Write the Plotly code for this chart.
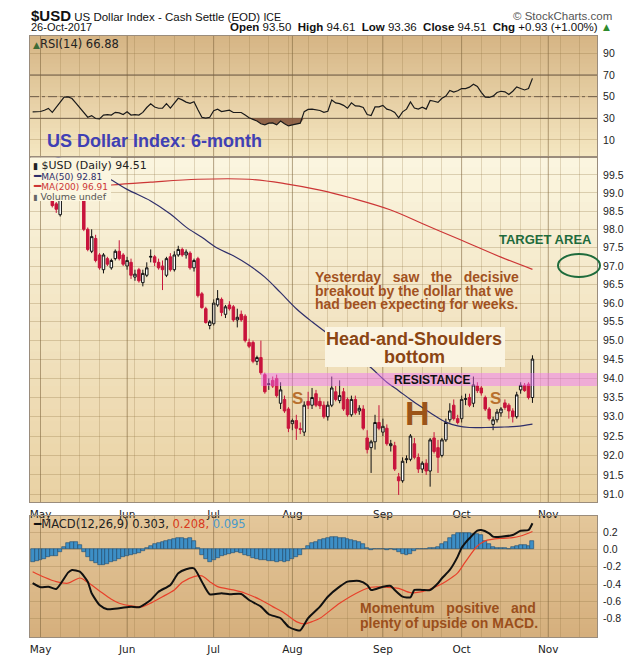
import math
import pandas as pd
import plotly.graph_objects as go
from plotly.subplots import make_subplots

# ---------------- calendar (trading days) ----------------
holidays = ["2017-05-29", "2017-07-04", "2017-09-04"]
days = pd.bdate_range("2017-04-27", "2017-11-24", freq="C", holidays=holidays)
cats = [d.strftime("%Y-%m-%d") for d in days]
price_days = cats[:128]          # 2017-04-27 .. 2017-10-26

# ---------------- daily OHLC ($USD) ----------------
open_ = [99.10, 98.95,
         99.05, 99.15, 99.00, 98.95, 98.70, 98.40, 99.05, 99.55, 99.60, 99.65, 99.15, 98.85, 98.00, 97.40, 97.75, 97.30, 96.90, 97.20, 96.95, 97.20, 97.40, 97.30,
         97.00, 97.10, 96.70, 96.90, 96.55, 96.75, 97.24, 97.25, 97.10, 97.00, 96.75, 97.25, 96.90, 97.30, 97.45, 97.30, 97.35, 96.95, 97.20, 96.25, 95.85, 95.40,
         95.45, 95.95, 96.10, 95.70, 95.95, 95.90, 95.55, 95.70, 95.65, 94.95, 94.95, 94.45, 94.55, 94.10, 93.84, 93.95, 94.00, 93.35, 93.45, 93.20,
         92.82, 92.90, 92.69, 92.60, 93.40, 93.30, 93.60, 93.40, 93.30, 93.00, 93.30, 93.65, 93.42, 93.65, 93.45, 93.05, 93.45, 93.15, 93.20, 92.45, 92.20, 92.35, 92.85,
         92.60, 92.70, 92.25, 92.25, 91.45, 91.35, 91.89, 91.90, 92.30, 91.95, 91.65, 91.80, 91.60, 92.45, 92.20, 92.00, 92.40, 92.92, 93.30, 92.95,
         92.95, 93.45, 93.50, 93.35, 93.80, 93.75, 93.50, 93.20, 92.80, 92.92, 93.10, 93.36, 93.30, 93.15, 93.00, 93.70, 93.82, 93.85, 93.50]
high_ = [99.20, 99.10,
         99.25, 99.20, 99.20, 99.00, 98.75, 99.10, 99.60, 99.70, 99.80, 99.70, 99.20, 98.90, 98.05, 98.00, 97.85, 97.35, 97.35, 97.25, 97.20, 97.45, 97.70, 97.35,
         97.25, 97.20, 96.90, 96.95, 96.90, 97.10, 97.45, 97.30, 97.20, 97.15, 97.25, 97.35, 97.40, 97.55, 97.50, 97.45, 97.40, 97.20, 97.25, 96.30, 95.90, 95.55,
         96.10, 96.35, 96.15, 95.95, 96.05, 95.95, 95.85, 95.80, 95.70, 95.05, 95.00, 94.60, 95.00, 94.15, 94.00, 94.05, 94.10, 93.90, 93.55, 93.25,
         92.95, 93.05, 92.85, 93.40, 93.65, 93.75, 93.70, 93.50, 93.40, 93.40, 94.05, 93.80, 93.95, 93.75, 93.50, 93.55, 93.55, 93.30, 93.30, 92.65, 92.40, 93.05, 93.30,
         92.95, 92.80, 92.40, 92.35, 91.55, 91.95, 92.00, 92.55, 92.45, 92.05, 91.85, 91.90, 92.45, 92.60, 92.40, 92.45, 92.95, 93.35, 93.45, 93.05,
         93.55, 93.60, 93.60, 94.05, 93.90, 93.80, 93.55, 93.25, 93.00, 93.20, 93.25, 93.45, 93.35, 93.22, 93.65, 93.90, 93.88, 93.90, 94.61]
low_ = [98.80, 98.85,
        98.95, 98.90, 98.90, 98.60, 98.45, 98.35, 99.00, 99.40, 99.45, 99.10, 98.85, 97.95, 97.40, 97.35, 97.10, 96.90, 96.80, 97.00, 96.90, 97.15, 97.15, 97.00,
        96.90, 96.65, 96.60, 96.55, 96.45, 96.70, 97.10, 97.00, 96.90, 96.35, 96.70, 96.85, 96.85, 97.25, 97.25, 97.20, 96.90, 96.85, 96.15, 95.85, 95.45, 95.30,
        95.40, 95.90, 95.65, 95.60, 95.80, 95.50, 95.35, 95.50, 94.95, 94.80, 94.40, 94.35, 94.10, 93.60, 93.70, 93.75, 93.50, 93.20, 93.10, 92.60,
        92.65, 92.40, 92.55, 92.50, 93.20, 93.20, 93.25, 93.20, 92.95, 92.90, 93.25, 93.40, 93.35, 93.15, 93.00, 93.00, 93.05, 93.05, 92.65, 92.05, 91.55, 92.15, 92.65,
        92.50, 92.25, 92.10, 91.60, 90.99, 91.30, 91.80, 91.85, 91.90, 91.55, 91.55, 91.50, 91.20, 92.05, 91.55, 91.95, 92.35, 92.85, 92.90, 92.80,
        92.85, 93.30, 93.25, 93.25, 93.62, 93.55, 93.15, 92.90, 92.65, 92.85, 93.00, 93.18, 92.95, 92.85, 92.95, 93.60, 93.65, 93.45, 93.36]
close_ = [98.95, 99.05,
          99.15, 99.00, 99.10, 98.65, 98.55, 99.05, 99.55, 99.60, 99.70, 99.20, 98.90, 98.00, 97.45, 97.80, 97.15, 96.95, 97.30, 97.05, 97.15, 97.40, 97.20, 97.05,
          97.15, 96.75, 96.78, 96.60, 96.80, 96.95, 97.26, 97.10, 96.95, 96.90, 97.20, 96.90, 97.30, 97.45, 97.30, 97.38, 96.95, 97.15, 96.20, 95.88, 95.48, 95.50,
          96.00, 96.12, 95.75, 95.90, 95.85, 95.55, 95.62, 95.55, 95.00, 94.85, 94.45, 94.55, 94.15, 93.65, 93.86, 93.80, 93.55, 93.70, 93.15, 92.70,
          92.90, 92.70, 92.67, 93.30, 93.30, 93.50, 93.30, 93.28, 93.00, 93.30, 93.75, 93.45, 93.55, 93.20, 93.05, 93.45, 93.10, 93.22, 92.70, 92.15, 92.35, 92.85, 92.70,
          92.75, 92.30, 92.30, 91.65, 91.35, 91.85, 91.91, 92.50, 91.95, 91.65, 91.80, 91.60, 92.40, 92.10, 91.95, 92.40, 92.85, 93.15, 92.95, 92.85,
          93.45, 93.47, 93.30, 93.83, 93.68, 93.62, 93.20, 92.95, 92.92, 93.12, 93.20, 93.24, 93.15, 93.00, 93.57, 93.82, 93.68, 93.50, 94.51]

# ---------------- RSI(14), daily ----------------
rsi = [36, 36, 36.3, 37.5, 39.2, 35.5, 40, 45, 49.5, 49.8,
       48.3, 44, 39.5, 34.5, 31, 32.5, 29.8, 29.5, 33, 33.5,
       33, 35.5, 35, 33.5, 36, 33, 33.5, 33, 35.5, 40,
       43.5, 40.5, 39.3, 39.5, 43.5, 39.5, 44, 48.5, 47, 45,
       43.9, 45.4, 38, 31, 30.2, 31, 37, 38.4, 36.2, 37.2,
       37.5, 35.4, 35.5, 35.4, 33, 30.5, 29, 27.5, 25, 24,
       25.5, 25.8, 24, 27.5, 25, 23, 24, 24.8, 25.5, 36.2,
       38.2, 38.5, 37.7, 37.2, 35.5, 36.5, 47, 44.2, 43.6, 42,
       39.3, 44.3, 41.5, 41.2, 40, 33.5, 32.5, 40.5, 40.6, 42,
       38.5, 37.5, 35.5, 30.5, 36, 38.5, 45.2, 39.5, 38.5, 40.2,
       38.5, 46.5, 45.8, 44.8, 48.5, 50.5, 55.8, 54.2, 55.5, 57.5,
       57.5, 58.8, 61.5, 59.5, 54, 49.5, 49.3, 50.5, 53.8, 55,
       54.5, 52, 55, 59, 57.5, 56.2, 57.5, 66.9]

# ---------------- moving averages (sampled) ----------------
ma50_dates = ["2017-05-01", "2017-05-11", "2017-05-24", "2017-06-01", "2017-06-09", "2017-06-16", "2017-06-22",
              "2017-06-28", "2017-07-05", "2017-07-11", "2017-07-17", "2017-07-21", "2017-07-27", "2017-08-02",
              "2017-08-08", "2017-08-11", "2017-08-17", "2017-08-23", "2017-08-29", "2017-09-05", "2017-09-08",
              "2017-09-13", "2017-09-18", "2017-09-21", "2017-09-26", "2017-09-29", "2017-10-04", "2017-10-10",
              "2017-10-16", "2017-10-20", "2017-10-26"]
ma50 = [100.15, 99.85, 99.42, 99.10, 98.78, 98.42, 98.06, 97.78, 97.48, 97.28, 97.02, 96.70, 96.28, 95.85,
        95.50, 95.26, 94.95, 94.62, 94.28, 93.90, 93.68, 93.45, 93.24, 93.04, 92.86, 92.76, 92.72, 92.72,
        92.73, 92.75, 92.81]
ma200_dates = ["2017-04-27", "2017-05-15", "2017-05-25", "2017-06-09", "2017-06-27", "2017-07-17", "2017-07-28",
               "2017-08-10", "2017-08-22", "2017-09-06", "2017-09-19", "2017-10-02", "2017-10-16", "2017-10-26"]
ma200 = [99.00, 99.12, 99.22, 99.30, 99.38, 99.38, 99.26, 99.08, 98.86, 98.53, 98.11, 97.70, 97.24, 96.91]

# ---------------- MACD(12,26,9) ----------------
macd_dates = ["2017-04-27", "2017-05-01", "2017-05-03", "2017-05-05", "2017-05-10", "2017-05-11", "2017-05-15",
              "2017-05-17", "2017-05-18", "2017-05-22", "2017-05-24", "2017-05-30", "2017-06-02", "2017-06-06",
              "2017-06-09", "2017-06-13", "2017-06-16", "2017-06-20", "2017-06-22", "2017-06-26", "2017-06-28",
              "2017-06-30", "2017-07-06", "2017-07-10", "2017-07-13", "2017-07-17", "2017-07-20", "2017-07-24",
              "2017-07-27", "2017-07-31", "2017-08-02", "2017-08-03", "2017-08-07", "2017-08-10", "2017-08-14",
              "2017-08-17", "2017-08-21", "2017-08-24", "2017-08-28", "2017-08-29", "2017-09-01", "2017-09-06",
              "2017-09-07", "2017-09-11", "2017-09-13", "2017-09-14", "2017-09-18", "2017-09-20", "2017-09-22",
              "2017-09-25", "2017-09-27", "2017-09-29", "2017-10-02", "2017-10-03", "2017-10-04", "2017-10-06",
              "2017-10-09", "2017-10-11", "2017-10-12", "2017-10-16", "2017-10-19", "2017-10-23", "2017-10-25",
              "2017-10-26"]
macd = [-0.39, -0.437, -0.43, -0.457, -0.268, -0.237, -0.257,
        -0.372, -0.506, -0.642, -0.69, -0.68, -0.661, -0.668,
        -0.584, -0.488, -0.41, -0.275, -0.229, -0.218, -0.372,
        -0.518, -0.506, -0.518, -0.514, -0.584, -0.661, -0.749,
        -0.795, -0.893, -0.93, -0.935, -0.795, -0.661, -0.546,
        -0.43, -0.372, -0.364, -0.41, -0.468, -0.43, -0.422,
        -0.468, -0.546, -0.553, -0.468, -0.468, -0.468, -0.39,
        -0.333, -0.237, -0.083, 0.02, 0.08, 0.129, 0.217,
        0.225, 0.187, 0.148, 0.148, 0.168, 0.217, 0.225,
        0.303]
signal_dates = ["2017-04-27", "2017-05-02", "2017-05-05", "2017-05-10", "2017-05-15", "2017-05-17", "2017-05-22",
                "2017-05-25", "2017-05-30", "2017-06-02", "2017-06-07", "2017-06-09", "2017-06-14", "2017-06-19",
                "2017-06-21", "2017-06-26", "2017-06-28", "2017-06-30", "2017-07-05", "2017-07-11", "2017-07-14",
                "2017-07-20", "2017-07-25", "2017-07-28", "2017-08-02", "2017-08-04", "2017-08-08", "2017-08-10",
                "2017-08-17", "2017-08-24", "2017-08-29", "2017-09-05", "2017-09-08", "2017-09-13", "2017-09-18",
                "2017-09-22", "2017-09-26", "2017-09-29", "2017-10-03", "2017-10-06", "2017-10-10", "2017-10-16",
                "2017-10-19", "2017-10-23", "2017-10-26"]
signal = [-0.257, -0.321, -0.372, -0.39, -0.33, -0.38, -0.48,
          -0.576, -0.622, -0.653, -0.661, -0.62, -0.546, -0.468,
          -0.38, -0.314, -0.306, -0.372, -0.43, -0.468, -0.506,
          -0.584, -0.661, -0.737, -0.834, -0.861, -0.834, -0.795,
          -0.622, -0.488, -0.437, -0.437, -0.449, -0.499, -0.488,
          -0.42, -0.37, -0.27, -0.14, 0.04, 0.10, 0.129,
          0.136, 0.156, 0.208]
hist = [-0.14, -0.13, -0.12, -0.11, -0.09, -0.08, -0.07, -0.03, 0.03, 0.07,
        0.09, 0.09, 0.05, -0.03, -0.09, -0.13, -0.16, -0.18, -0.18, -0.17,
        -0.15, -0.13, -0.11, -0.09, -0.07, -0.06, -0.05, -0.04, -0.02, 0.02,
        0.04, 0.06, 0.08, 0.09, 0.10, 0.11, 0.12, 0.13, 0.13, 0.12,
        0.13, 0.10, 0.02, -0.06, -0.11, -0.14, -0.12, -0.10, -0.08, -0.06,
        -0.05, -0.04, -0.03, -0.04, -0.06, -0.08, -0.10, -0.11, -0.12, -0.12,
        -0.13, -0.13, -0.14, -0.13, -0.14, -0.13, -0.11, -0.09, -0.06, 0.0,
        0.04, 0.07, 0.09, 0.11, 0.12, 0.13, 0.14, 0.14, 0.13, 0.13,
        0.12, 0.11, 0.10, 0.09, 0.06, 0.02, -0.01, 0.01, 0.01, 0.0,
        -0.01, 0.01, -0.01, -0.03, -0.05, -0.06, -0.05, -0.02, 0.01, 0.01,
        0.01, 0.02, 0.02, 0.03, 0.06, 0.09, 0.13, 0.17, 0.19, 0.19,
        0.19, 0.19, 0.18, 0.18, 0.17, 0.10, 0.06, 0.03, 0.02, 0.02,
        0.02, 0.01, 0.03, 0.04, 0.05, 0.05, 0.04, 0.095]

price_ticks = [91.0, 91.5, 92.0, 92.5, 93.0, 93.5, 94.0, 94.5, 95.0, 95.5, 96.0, 96.5, 97.0, 97.5, 98.0, 98.5, 99.0, 99.5]
rsi_ticks = [10, 30, 50, 70, 90]
macd_ticks = [-0.8, -0.6, -0.4, -0.2, 0.0, 0.2]
month_names = {5: "May", 6: "Jun", 7: "Jul", 8: "Aug", 9: "Sep", 10: "Oct", 11: "Nov"}

# ---------------- geometry helpers (pixels -> paper) ----------------
W, H = 630, 661
ML, MR, MT, MB = 30, 33, 36, 24
PW, PH = W - ML - MR, H - MT - MB


def px(x):
    return (x - ML) / PW


def py(y):
    return (H - MB - y) / PH


XR = [-0.67, 143.4]
YR_RSI = [-5.7, 106.0]
YR_PRICE = [math.log10(90.81), math.log10(100.0)]
YR_MACD = [-1.012, 0.387]
ARIAL = "Liberation Sans, Arial, sans-serif"
VERD = "DejaVu Sans, Verdana, sans-serif"

# ticks / grid helpers from the calendar
s = pd.Series(days)
firsts = s.groupby([s.dt.year, s.dt.month]).first()
first_list = sorted(d.strftime("%Y-%m-%d") for d in firsts if d.month in month_names)
first_set = set(first_list)
monday_set = set(d.strftime("%Y-%m-%d") for d in days if d.weekday() == 0)
tickvals = sorted(first_set | monday_set)
ticktext = [month_names[pd.Timestamp(t).month] if t in first_set else "" for t in tickvals]

fig = make_subplots(rows=3, cols=1, shared_xaxes=True, vertical_spacing=0.02)

# category registration helpers (invisible)
for r, yv in [(1, 50), (2, 95), (3, 0)]:
    fig.add_trace(go.Scatter(x=cats, y=[yv] * len(cats), mode="markers", marker=dict(opacity=0, size=1),
                             hoverinfo="skip", showlegend=False), row=r, col=1)

# darker month separator lines (one trace per panel)
for r, (lo, hi) in [(1, (-50, 200)), (2, (80.0, 110.0)), (3, (-3, 3))]:
    xs, ys = [], []
    for d in first_list:
        xs += [d, d, None]
        ys += [lo, hi, None]
    fig.add_trace(go.Scatter(x=xs, y=ys, mode="lines", line=dict(color="rgba(120,95,60,0.42)", width=1),
                             hoverinfo="skip", showlegend=False, connectgaps=False), row=r, col=1)

# RSI
fig.add_trace(go.Scatter(x=price_days, y=[30] * len(price_days), mode="lines", line=dict(width=0),
                         hoverinfo="skip", showlegend=False), row=1, col=1)
fig.add_trace(go.Scatter(x=price_days, y=[min(v, 30) for v in rsi], mode="lines", line=dict(width=0),
                         fill="tonexty", fillcolor="rgba(135,88,62,0.9)", hoverinfo="skip", showlegend=False),
              row=1, col=1)
fig.add_trace(go.Scatter(x=price_days, y=rsi, mode="lines", line=dict(color="#1a1a1a", width=1.2),
                         showlegend=False), row=1, col=1)

# Price
fig.add_trace(go.Scatter(x=ma200_dates, y=ma200, mode="lines", line=dict(color="#cc3636", width=1.2, shape="spline"),
                         showlegend=False), row=2, col=1)
fig.add_trace(go.Scatter(x=ma50_dates, y=ma50, mode="lines", line=dict(color="#2e2e6a", width=1.2, shape="spline"),
                         showlegend=False), row=2, col=1)
fig.add_trace(go.Candlestick(x=price_days, open=open_, high=high_, low=low_, close=close_,
                             increasing=dict(line=dict(color="#111111", width=1), fillcolor="#ffffff"),
                             decreasing=dict(line=dict(color="#c8143c", width=1), fillcolor="#c8143c"),
                             whiskerwidth=0, showlegend=False, hoverinfo="skip"), row=2, col=1)

# MACD
fig.add_trace(go.Bar(x=price_days, y=hist, marker=dict(color="#3d8fc6", line=dict(color="#1d4a6e", width=0.6)),
                     showlegend=False), row=3, col=1)
fig.add_trace(go.Scatter(x=signal_dates, y=signal, mode="lines",
                         line=dict(color="#e8402a", width=1.2, shape="spline", smoothing=0.8), showlegend=False),
              row=3, col=1)
fig.add_trace(go.Scatter(x=macd_dates, y=macd, mode="lines",
                         line=dict(color="#111111", width=2, shape="spline", smoothing=0.6), showlegend=False),
              row=3, col=1)

grid = "rgba(140,110,60,0.24)"
border = "#9a8c7c"
xcommon = dict(type="category", categoryorder="array", categoryarray=cats, range=XR, automargin=False,
               tickvals=tickvals, ticktext=ticktext, showgrid=True, gridcolor=grid, gridwidth=1,
               showline=True, mirror=True, linecolor=border, linewidth=1,
               ticks="outside", ticklen=2, tickcolor="rgba(0,0,0,0)",
               tickfont=dict(family=VERD, size=10.5, color="#222"), rangeslider=dict(visible=False))
fig.update_layout(
    xaxis=dict(xcommon, showticklabels=False),
    xaxis2=dict(xcommon, showticklabels=True),
    xaxis3=dict(xcommon, showticklabels=True),
)
ycommon = dict(side="right", showgrid=True, gridcolor="rgba(140,110,60,0.28)", gridwidth=1, zeroline=False,
               showline=True, mirror=True, linecolor=border, linewidth=1, automargin=False,
               ticks="outside", ticklen=3, tickcolor="rgba(0,0,0,0)",
               tickfont=dict(family=ARIAL, size=10.5, color="#222"))
fig.update_layout(
    yaxis=dict(ycommon, domain=[py(157), py(36)], range=YR_RSI, tickvals=rsi_ticks,
               ticktext=[str(v) for v in rsi_ticks]),
    yaxis2=dict(ycommon, domain=[py(502), py(157)], type="log", range=YR_PRICE, tickvals=price_ticks,
                ticktext=["%.1f" % v for v in price_ticks]),
    yaxis3=dict(ycommon, domain=[py(637), py(516)], range=YR_MACD, tickvals=macd_ticks,
                ticktext=["%.1f" % v for v in macd_ticks]),
)

# ---------------- shapes ----------------
shapes = []


def gradient(y_top, y_bot, c_top, c_bot, n=30):
    for k in range(n):
        t = (k + 0.5) / n
        c = tuple(round(a + (b - a) * t) for a, b in zip(c_top, c_bot))
        ya = y_top + (y_bot - y_top) * k / n
        yb = y_top + (y_bot - y_top) * (k + 1) / n
        shapes.append(dict(type="rect", xref="paper", yref="paper", x0=0, x1=1,
                           y0=py(yb), y1=py(ya) + 0.0015, fillcolor="rgb(%d,%d,%d)" % c,
                           line=dict(width=0), layer="below"))


gradient(36, 157, (213, 180, 132), (245, 231, 193))
gradient(157, 502, (251, 246, 224), (233, 209, 163))
gradient(516, 637, (228, 199, 154), (213, 175, 125))

# RSI levels
for lvl, dash in [(70, "solid"), (30, "solid"), (50, "dashdot")]:
    shapes.append(dict(type="line", xref="x", yref="y", x0=XR[0], x1=XR[1], y0=lvl, y1=lvl,
                       line=dict(color="#6e5c48", width=1, dash=dash), layer="between"))

# legend cover box, H&S label box, resistance band, target ellipse
shapes.append(dict(type="rect", xref="paper", yref="paper", x0=px(30.5), x1=px(111), y0=py(201), y1=py(157.5),
                   fillcolor="rgb(251,246,224)", line=dict(width=0), layer="above"))
shapes.append(dict(type="rect", xref="paper", yref="paper", x0=px(325), x1=px(505), y0=py(367), y1=py(327),
                   fillcolor="rgb(250,244,226)", line=dict(width=0), layer="above"))
shapes.append(dict(type="rect", xref="paper", yref="paper", x0=px(261), x1=1, y0=py(386), y1=py(373),
                   fillcolor="rgba(240,110,250,0.45)", line=dict(width=0), layer="above"))
shapes.append(dict(type="circle", xref="paper", yref="paper", x0=px(558), x1=px(600), y0=py(277), y1=py(254),
                   line=dict(color="#1e6b3c", width=2), layer="above"))

# ---------------- annotations ----------------
ann = []


def txt(x, y, s, size, color="#222", family=VERD, xanchor="left"):
    ann.append(dict(x=px(x), y=py(y), xref="paper", yref="paper", text=s, showarrow=False,
                    xanchor=xanchor, yanchor="middle", font=dict(size=size, color=color, family=family)))


NB = "\u00a0"
# header
txt(29, 15, '<b><span style="font-size:15px">$USD</span></b> US Dollar Index - Cash Settle (EOD) '
            '<span style="font-size:10.5px">ICE</span>', 11.5, "#111", ARIAL)
txt(614, 16, "\u00a9 StockCharts.com", 11.5, "#555", ARIAL, "right")
txt(29, 27, "26-Oct-2017", 11, "#111", ARIAL)
txt(614, 27, ('<b>Open</b> 93.50' + NB + ' <b>High</b> 94.61' + NB + ' <b>Low</b> 93.36' + NB +
              ' <b>Close</b> 94.51' + NB + ' <b>Chg</b> +0.93 (+1.00%) <span style="color:#2e8b2e">\u25b2</span>'),
    11.5, "#111", ARIAL, "right")

# RSI legend
txt(31, 44, '<span style="color:#3d6b35;font-size:9px">\u25b2</span>RSI(14) 66.88', 11.5, "#222")
txt(45, 141, "<b>US Dollar Index: 6-month</b>", 18, "#4040b4", ARIAL)

# main legend
txt(31, 165, '<span style="font-size:9px">\u25ae</span> $USD (Daily) 94.51', 11, "#222")
txt(31, 176, '<span style="color:#2e2e6a;font-size:12px">\u2501</span>MA(50) 92.81', 9, "#2e2e6a")
txt(31, 186, '<span style="color:#cc3636;font-size:12px">\u2501</span>MA(200) 96.91', 9, "#cc3636")
txt(31, 196, '<span style="color:#666;font-size:8px">\u25ae</span> Volume undef', 9.5, "#555")

# chart commentary
brown = "#a2521f"
txt(313, 277, "<b>Yesterday" + NB * 3 + "saw" + NB * 3 + "the" + NB * 3 + "decisive</b>", 14, brown, ARIAL)
txt(313, 291, "<b>breakout by the dollar that we</b>", 14, brown, ARIAL)
txt(313, 304, "<b>had been expecting for weeks.</b>", 14, brown, ARIAL)
txt(545, 239, "<b>TARGET AREA</b>", 13, "#1e6b3c", ARIAL, "center")
txt(414, 339, "<b>Head-and-Shoulders</b>", 18, "#8b4513", ARIAL, "center")
txt(414, 357, "<b>bottom</b>", 18, "#8b4513", ARIAL, "center")
txt(432, 380, "<b>RESISTANCE</b>", 12, "#111", ARIAL, "center")
txt(297, 398, "<b>S</b>", 17, "#b8702e", ARIAL, "center")
txt(495, 398, "<b>S</b>", 17, "#b8702e", ARIAL, "center")
txt(417, 413, "<b>H</b>", 34, "#9c5418", ARIAL, "center")

# MACD legend and commentary
txt(31, 524, '<span style="color:#111;font-size:12px">\u2501</span>MACD(12,26,9) 0.303, '
             '<span style="color:#d83a20">0.208,</span> <span style="color:#4a9acb">0.095</span>', 11.5, "#222")
txt(358, 608, "<b>Momentum" + NB * 3 + "positive" + NB * 3 + "and</b>", 14, "#9b4f1c", ARIAL)
txt(358, 623, "<b>plenty of upside on MACD.</b>", 14, "#9b4f1c", ARIAL)

fig.update_layout(
    width=W, height=H, margin=dict(l=ML, r=MR, t=MT, b=MB, autoexpand=False),
    paper_bgcolor="white", plot_bgcolor="rgba(0,0,0,0)",
    showlegend=False, bargap=0, boxgap=0.1,
    shapes=shapes, annotations=ann, hovermode=False,
)

fig.write_html("out.html", config={"displayModeBar": False},
               post_script="document.body.style.margin='0';document.body.style.overflow='hidden';")
